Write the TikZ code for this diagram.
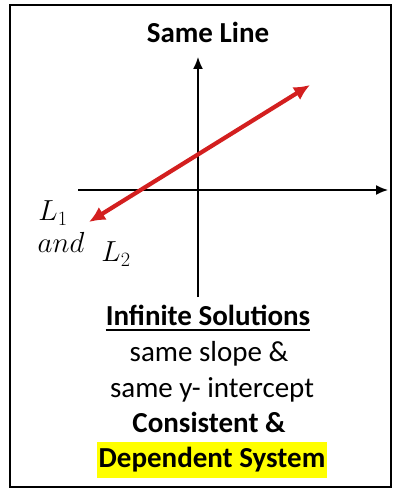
\documentclass[tikz,border=0pt]{standalone}
\usepackage{fontspec}
\setmainfont{Carlito}
\usepackage{fix-cm}
\usepackage{tikz}
\usetikzlibrary{arrows.meta, positioning}
\definecolor{linered}{HTML}{D31F1F}
\definecolor{marker}{HTML}{FFFF00}

\begin{document}
\begin{tikzpicture}[
    x=1pt, y=-1pt,
    font=\fontsize{29}{35}\selectfont,
    heading/.style={font=\fontsize{29}{35}\selectfont\bfseries, anchor=base, inner xsep=0pt},
    caption/.style={anchor=base, inner xsep=0pt},
    mathlbl/.style={font=\fontsize{29}{34}\selectfont, inner sep=0pt},
    axis/.style={-{Latex[length=12pt, width=10pt]}, line width=1.5pt, draw=black},
    sameline/.style={{Latex[length=16pt, width=15pt]}-{Latex[length=16pt, width=15pt]},
        line width=4.2pt, draw=linered}
]
\useasboundingbox (0,0) rectangle (401,489);

% Frame
\draw[line width=1.8pt] (10,5) rectangle (391,487);

% Title
\node[heading] (title) at (208,43) {Same Line};

% Axes
\coordinate (xl) at (78,190);
\coordinate (xr) at (388,190);
\coordinate (yb) at (198,297);
\coordinate (yt) at (198,57);
\draw[axis] (xl) -- (xr);
\draw[axis] (yb) -- (yt);

% The line L1 = L2
\coordinate (lo) at (89,222);
\coordinate (hi) at (310,85);
\draw[sameline] (lo) -- (hi);

% Line labels
\node[mathlbl] (l1) at (53,213) {$L_1$};
\node[mathlbl] (and) at (61,242) {$and$};
\node[mathlbl] (l2) at (116,254) {$L_2$};

% Description
\node[heading] (sol) at (208,325) {Infinite Solutions};
\draw[line width=1.6pt] ([yshift=-5pt]sol.base west) -- ([yshift=-5pt]sol.base east);
\node[caption] (slope) at (209,361) {same slope \&};
\node[caption] (icept) at (212,397) {same y- intercept};
\node[heading] (cons) at (209,432) {Consistent \&};
\node[heading, fill=marker, inner xsep=2pt, inner ysep=4pt,
    text height=21pt, text depth=7pt] (dep) at (212,467) {Dependent System};

\end{tikzpicture}
\end{document}
